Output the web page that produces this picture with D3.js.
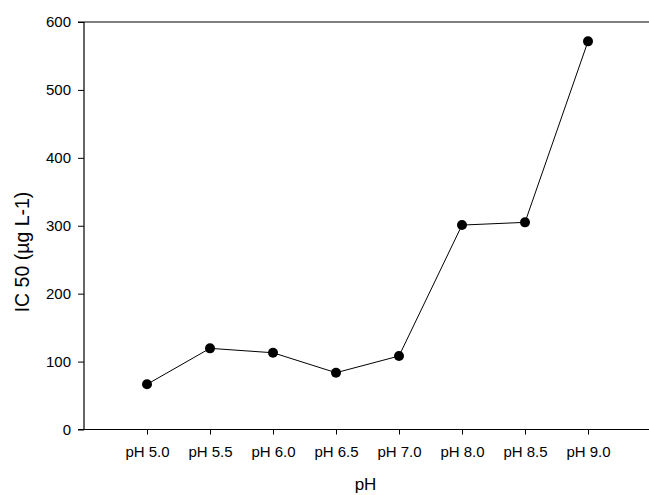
<!DOCTYPE html>
<html><head><meta charset="utf-8">
<script src="https://cdn.jsdelivr.net/npm/d3@7/dist/d3.min.js"></script>
<style>body{margin:0;background:#fff}svg{display:block}text{font-family:"Liberation Sans",Arial,sans-serif;fill:#000}</style>
</head><body>
<script>
const categories = ["pH 5.0","pH 5.5","pH 6.0","pH 6.5","pH 7.0","pH 8.0","pH 8.5","pH 9.0"];
const ic50 = [66.5, 119.5, 113, 83.6, 108.2, 301, 305, 571.5];
const yTicks = [0,100,200,300,400,500,600];

const W=649,H=495;
const pLeft=84, pTop=22, pBottom=429.5, pRight=651;
const svg=d3.select("body").append("svg").attr("width",W).attr("height",H);
const x=d3.scaleLinear().domain([-1,categories.length]).range([pLeft,pRight]);
const y=d3.scaleLinear().domain([0,600]).range([pBottom,pTop]);

// top frame line
svg.append("line").attr("x1",78).attr("x2",W).attr("y1",pTop).attr("y2",pTop)
  .attr("stroke","#555").attr("stroke-width",1.5);

// y axis
const ya=svg.append("g").attr("transform",`translate(${pLeft},0)`)
  .call(d3.axisLeft(y).tickValues(yTicks).tickSize(6).tickPadding(7).tickFormat(d3.format("d")));
ya.select(".domain").remove();
ya.selectAll("line").attr("stroke","#000");
ya.selectAll("text").attr("font-size",15).attr("font-family","Liberation Sans, Arial, sans-serif");
svg.append("line").attr("x1",pLeft).attr("x2",pLeft).attr("y1",pTop).attr("y2",pBottom).attr("stroke","#000").attr("stroke-width",1.2);

// x axis
const xa=svg.append("g").attr("transform",`translate(0,${pBottom})`)
  .call(d3.axisBottom(x).tickValues(d3.range(categories.length)).tickSize(5).tickPadding(12).tickFormat(i=>categories[i]));
xa.select(".domain").remove();
xa.selectAll("line").attr("stroke","#000");
xa.selectAll("text").attr("font-size",15).attr("font-family","Liberation Sans, Arial, sans-serif");
svg.append("line").attr("x1",78).attr("x2",W).attr("y1",pBottom).attr("y2",pBottom).attr("stroke","#000").attr("stroke-width",1.2);

// line + points
const line=d3.line().x((d,i)=>x(i)).y(d=>y(d));
svg.append("path").datum(ic50).attr("d",line).attr("fill","none").attr("stroke","#000").attr("stroke-width",1);
svg.selectAll("circle.pt").data(ic50).enter().append("circle").attr("class","pt")
  .attr("cx",(d,i)=>x(i)).attr("cy",d=>y(d)).attr("r",5).attr("fill","#000");

// titles
svg.append("text").attr("x",(pLeft+pRight)/2-2).attr("y",490).attr("text-anchor","middle").attr("font-size",17).text("pH");
svg.append("text").attr("transform",`translate(29,252) rotate(-90)`).attr("text-anchor","middle").attr("font-size",19.5).text("IC 50 (µg L-1)");
</script>
</body></html>
